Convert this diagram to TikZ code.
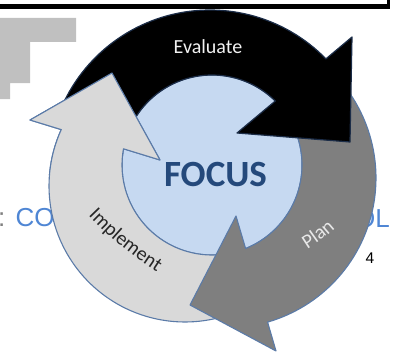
\documentclass[tikz,border=0pt]{standalone}
\usepackage{fontspec}
\setmainfont{Carlito}
\newfontfamily\slidefont{Liberation Sans}
\usetikzlibrary{decorations.text}

\definecolor{ringline}{HTML}{5B7BA8}
\definecolor{focusfill}{HTML}{C6D9F1}
\definecolor{implfill}{HTML}{D9D9D9}
\definecolor{planfill}{HTML}{7F7F7F}
\definecolor{focustext}{HTML}{24497B}
\definecolor{slideblue}{HTML}{4F86D4}
\definecolor{stairgray}{HTML}{C0C0C0}
\definecolor{evalrim}{HTML}{1C2D48}

% letter styles for the words set along the ring
\newcommand{\implstyle}{\fontsize{20}{24}\selectfont\color[HTML]{262626}}
\newcommand{\planstyle}{\fontsize{20}{24}\selectfont\color[HTML]{E8E8E8}}

% outlines of the three curved arrows (pixel-like units, y pointing down,
% angles grow clockwise); the inner edges follow the centre disc
\newcommand{\evalpath}{plot[domain=-160:-44.3, samples=60] ({210+162*cos(\x)},{172+162*sin(\x)})
  -- (352,37) -- (350,142) -- (237,133) -- (275.3,101)
  -- plot[domain=-45.3:-160, samples=40] ({212+90*cos(\x)},{165+90*sin(\x)}) -- cycle}
\newcommand{\planpath}{plot[domain=-40:73.9, samples=60] ({226+150*cos(\x)},{178+150*sin(\x)})
  -- (276,351) -- (190,305) -- (236,216) -- (245.6,248.5)
  -- plot[domain=68.1:-33, samples=40] ({212+90*cos(\x)},{165+90*sin(\x)}) -- cycle}
\newcommand{\implpath}{plot[domain=70:204.5, samples=60] ({185+136*cos(\x)},{186+136*sin(\x)})
  -- (30,120) -- (112,73) -- (160,160) -- (123.5,148.8)
  -- plot[domain=190.4:80, samples=40] ({212+90*cos(\x)},{165+90*sin(\x)}) -- cycle}

\begin{document}
\begin{tikzpicture}[x=1pt, y=-1pt,
  ring/.style={draw=ringline, line width=1.1pt, line join=round},
  slidetext/.style={inner sep=0pt, anchor=base west, font=\slidefont\fontsize{26}{30}\selectfont, text=slideblue}]
\useasboundingbox (0,0) rectangle (393,353);

% slide furniture behind the cycle
\fill[black] (0,4) rectangle (390,9.5);
\fill[black] (387,0) rectangle (390,9.5);
\fill[stairgray] (0,18) -- (76,18) -- (76,42) -- (30,42) -- (30,83) -- (10,83) -- (10,99) -- (0,99) -- cycle;
\node[slidetext, text=gray] (colon) at (-2,226) {:};
\node[slidetext] (leftword) at (15.5,226) {COL};
\node[slidetext] (rightword) at (355,227) {OL};
\node[inner sep=0pt, anchor=base west, font=\slidefont\fontsize{15.5}{18}\selectfont] (pagenum) at (365.5,263) {4};

% centre disc
\filldraw[fill=focusfill, draw=ringline, line width=1pt] (212,165) circle[radius=90pt];

% the three arrows, each head lying over the next tail
\filldraw[ring, fill=implfill] \implpath;
\filldraw[ring, fill=planfill] \planpath;
\filldraw[fill=black, draw=evalrim, line width=1.2pt, line join=round] \evalpath;
\begin{scope}
  \clip (15,55) -- (125,55) -- (180,175) -- (15,175) -- cycle;
  \filldraw[ring, fill=implfill] \implpath;
\end{scope}

% labels
\node[font=\fontsize{37}{40}\selectfont\bfseries, text=focustext, anchor=base, inner sep=0pt] (focus) at (215.5,186) {FOCUS};
\node[font=\fontsize{20}{24}\selectfont, text={black!5}, anchor=base, inner sep=0pt] (evaluate) at (208,53) {Evaluate};
\path[decorate, decoration={text along path, text align=center, text={|\implstyle|Implement}}]
  (77.7,204) to[bend right=8] (170.3,280.4);
\path[decorate, decoration={text along path, text align=center, text={|\planstyle|Plan}}]
  (292,258) to[bend right=8] (348,216);
\end{tikzpicture}
\end{document}
